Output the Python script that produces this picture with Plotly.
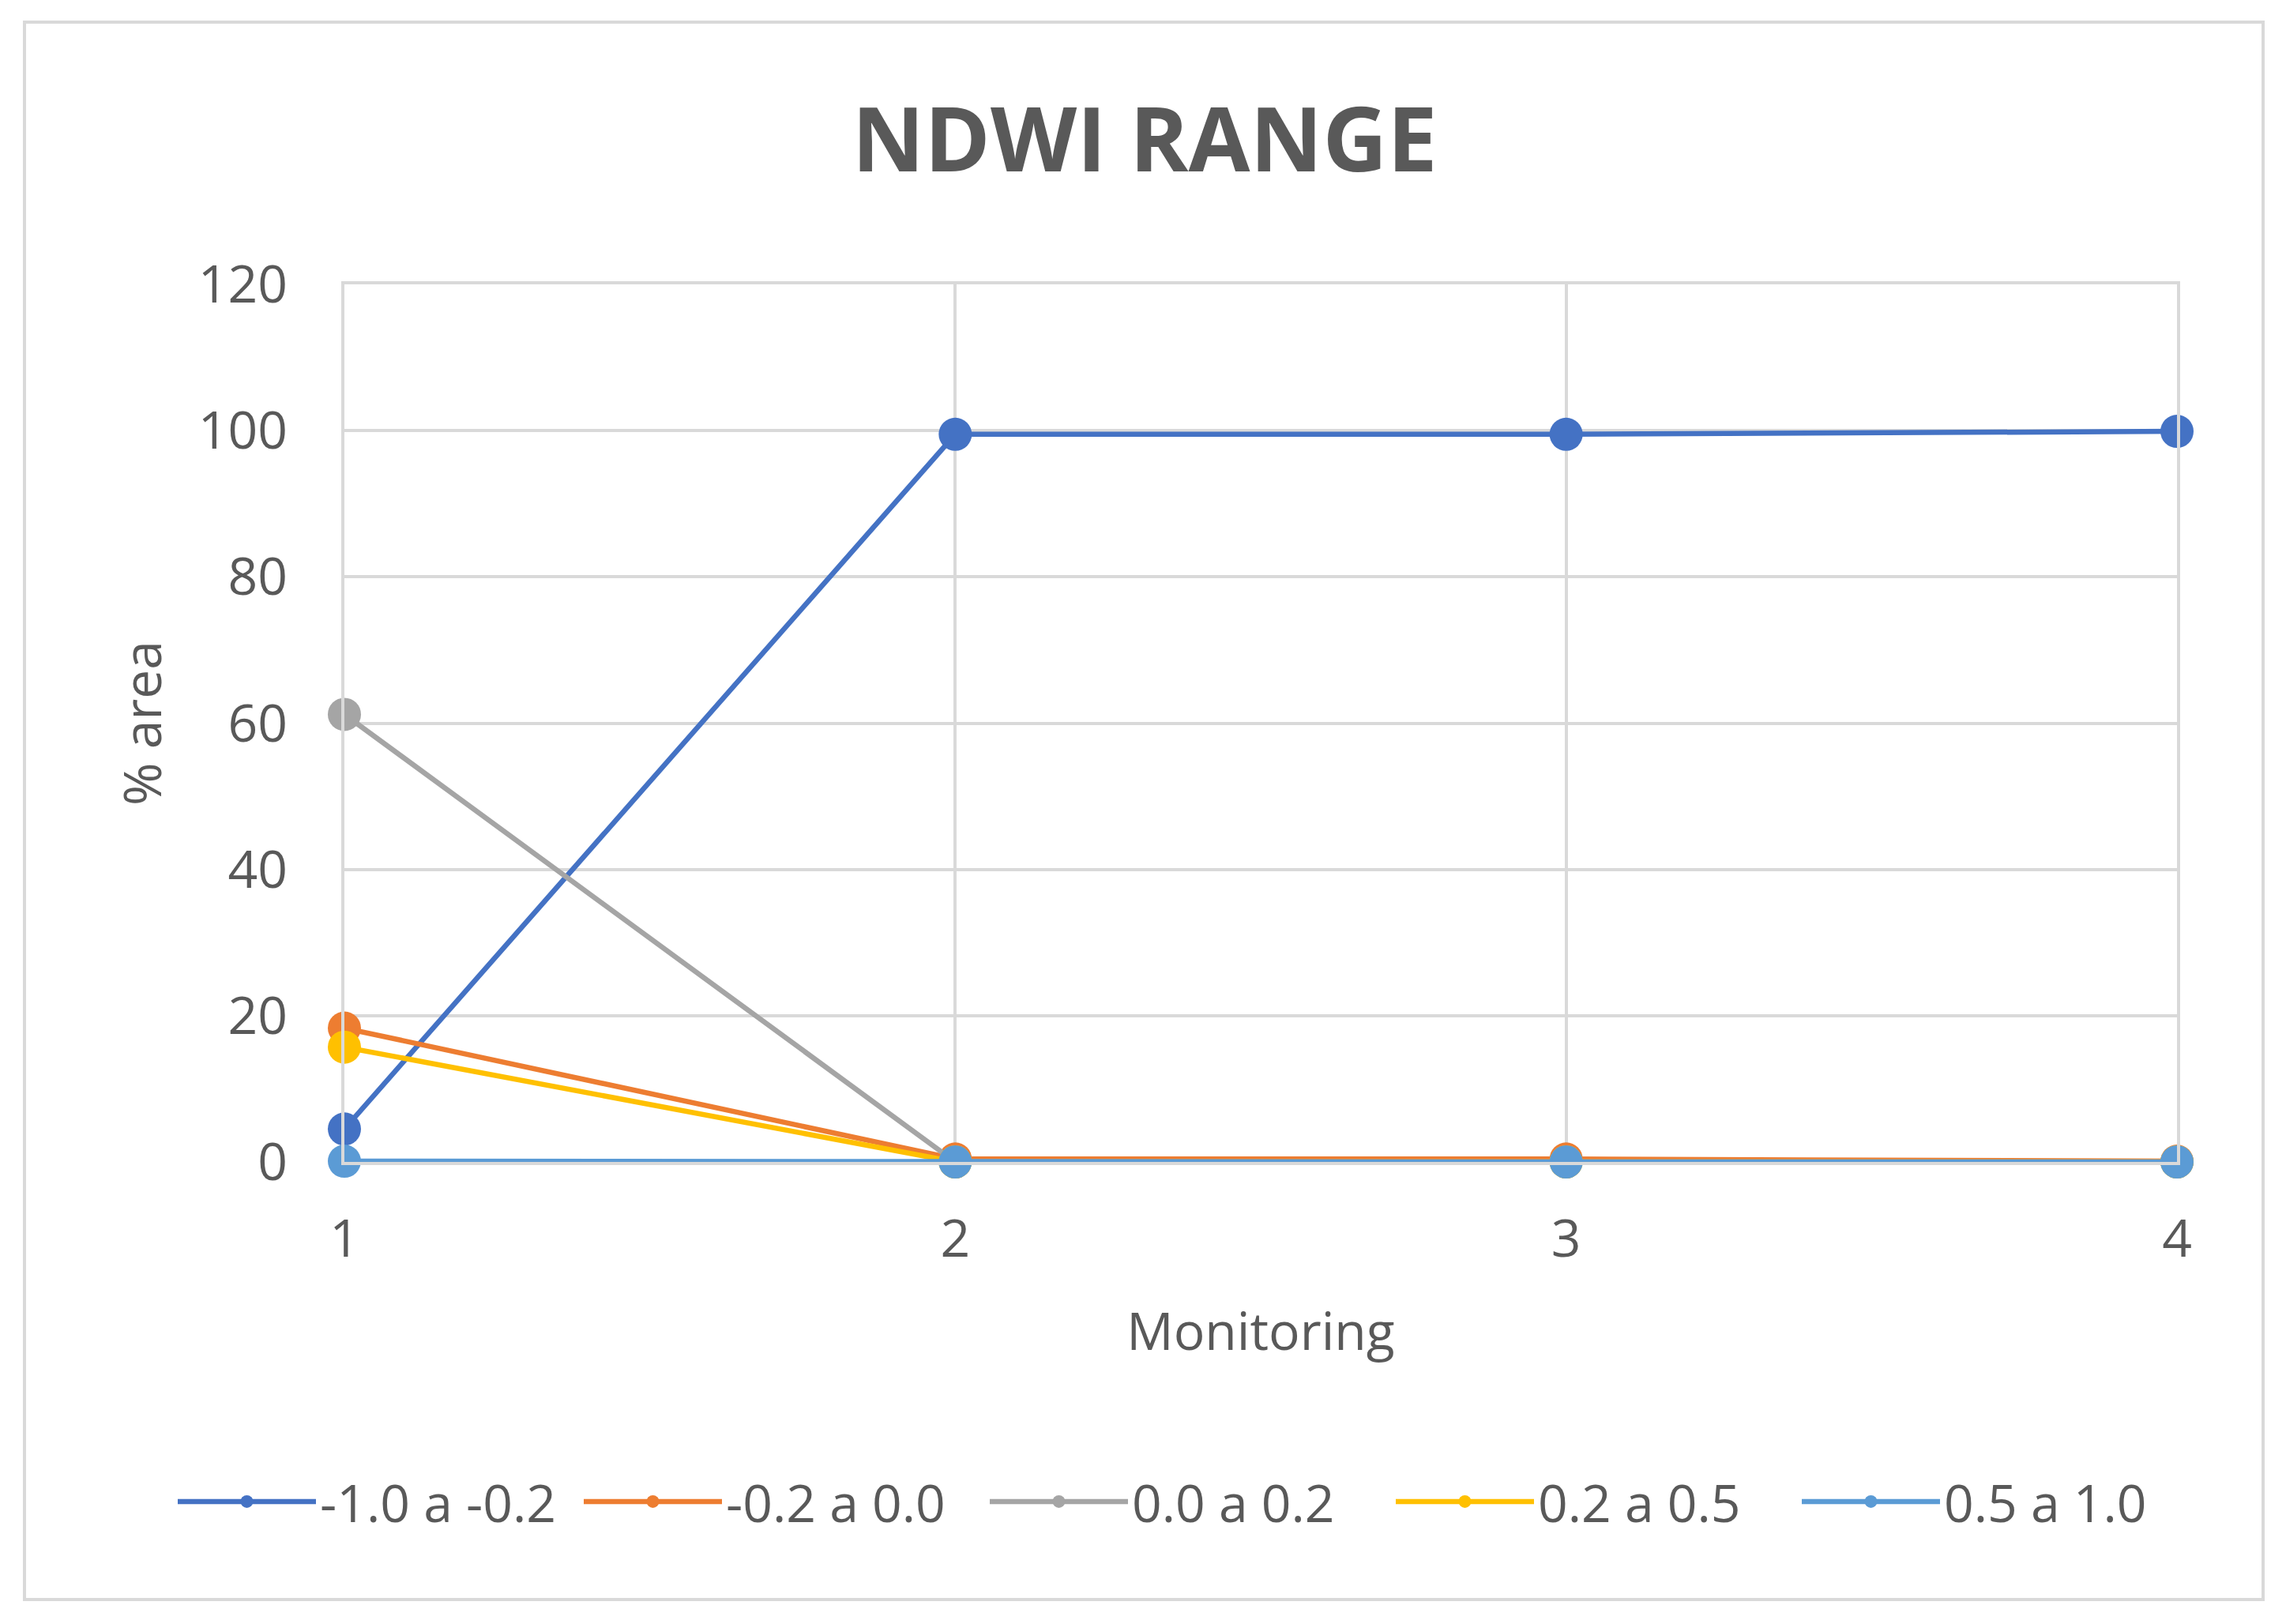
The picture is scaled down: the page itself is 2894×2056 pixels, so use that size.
import plotly.graph_objects as go

monitoring = [1, 2, 3, 4]
series_names = ["-1.0 a -0.2", "-0.2 a 0.0", "0.0 a 0.2", "0.2 a 0.5", "0.5 a 1.0"]
s_neg10_neg02 = [4.5, 99.5, 99.5, 99.9]
s_neg02_00 = [18.3, 0.4, 0.4, 0.1]
s_00_02 = [61.2, 0.0, 0.0, 0.0]
s_02_05 = [15.7, 0.0, 0.0, 0.0]
s_05_10 = [0.1, 0.0, 0.0, 0.0]
series_values = [s_neg10_neg02, s_neg02_00, s_00_02, s_02_05, s_05_10]
colors = ["#4472C4", "#ED7D31", "#A5A5A5", "#FFC000", "#5B9BD5"]
y_ticks = [0, 20, 40, 60, 80, 100, 120]

OFF = 8  # default page body margin
W, H = 2894 - 2 * OFF, 2056 - 2 * OFF
# target plot area in page pixels: x 436..2756, y 360..1471
L = 436 - OFF
T = 360 - OFF
R = W - (2756 - OFF)
B = H - (1471 - OFF)
pw, ph = W - L - R, H - T - B

fig = go.Figure()
for name, vals, c in zip(series_names, series_values, colors):
    fig.add_trace(go.Scatter(
        x=monitoring, y=vals, name=name, mode="lines+markers",
        line=dict(color=c, width=6.5),
        marker=dict(color=c, size=42),
        cliponaxis=False,
    ))

font_fam = "Open Sans, Lato, sans-serif"
grey = "#595959"

def px_x(px):
    return (px - OFF - L) / pw

def px_y(py):
    return (H - B - (py - OFF)) / ph

axis_common = dict(showgrid=True, gridcolor="#D9D9D9", gridwidth=3.5,
                   zeroline=False, showline=True, mirror=True,
                   linecolor="#D9D9D9", linewidth=3.5, ticks="")

fig.update_layout(
    width=W, height=H,
    margin=dict(l=L, r=R, t=T, b=B),
    paper_bgcolor="white", plot_bgcolor="white",
    font=dict(family=font_fam, color=grey, size=64),
    title=dict(text="<b>NDWI RANGE</b>", x=(1449 - OFF) / W, xanchor="center",
               y=1 - (177 - OFF) / H, yanchor="middle",
               font=dict(size=113, color=grey, family=font_fam)),
    showlegend=True,
    legend=dict(orientation="h",
                x=px_x(220), xanchor="left",
                y=px_y(1901), yanchor="middle",
                font=dict(size=66, color=grey), itemwidth=175,
                entrywidth=324, entrywidthmode="pixels",
                bgcolor="rgba(0,0,0,0)"),
    xaxis=dict(range=[1, 4], tickvals=monitoring, ticklabelstandoff=37,
               tickfont=dict(size=66, color=grey),
               title=dict(text="Monitoring", standoff=55,
                          font=dict(size=66, color=grey)),
               **axis_common),
    yaxis=dict(range=[0, 120], tickvals=y_ticks, ticklabelstandoff=55,
               tickfont=dict(size=66, color=grey),
               title=dict(text="% area", standoff=26,
                          font=dict(size=66, color=grey)),
               **axis_common),
    shapes=[dict(type="rect", xref="paper", yref="paper",
                 x0=px_x(31), x1=px_x(2865), y0=px_y(2025), y1=px_y(28),
                 line=dict(color="#D9D9D9", width=4), layer="below")],
)

fig.write_html("out.html")
